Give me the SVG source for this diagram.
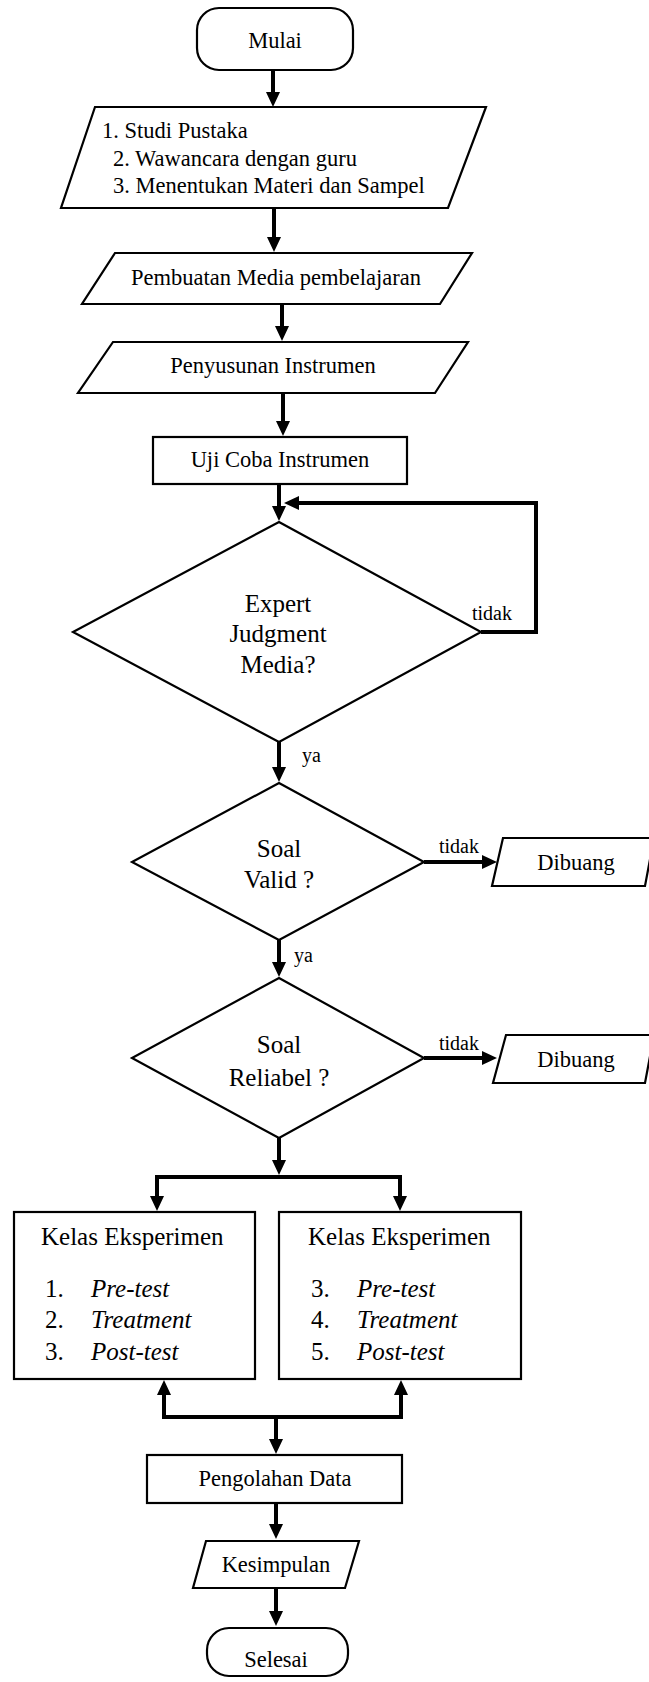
<svg xmlns="http://www.w3.org/2000/svg" width="649" height="1682" viewBox="0 0 649 1682">
<defs>
<marker id="ah" markerUnits="userSpaceOnUse" markerWidth="16" markerHeight="15" refX="5" refY="7" orient="auto" viewBox="0 0 16 14">
<path d="M0,0 L15,7 L0,14 z" fill="#000"/>
</marker>
<style>
.s{fill:#fff;stroke:#000;stroke-width:2.2}
.c{fill:none;stroke:#000;stroke-width:4}
.a{marker-end:url(#ah)}
text{font-family:"Liberation Serif","DejaVu Serif",serif;fill:#000}
.t{font-size:22.5px}
.m{text-anchor:middle}
.d{font-size:25px;text-anchor:middle}
.k{font-size:25px}
.i{font-style:italic}
.l{font-size:20px}
</style>
</defs>
<rect width="649" height="1682" fill="#fff"/>

<g id="connectors">
<line class="c a" x1="273" y1="70" x2="273" y2="97"/>
<line class="c a" x1="274" y1="208" x2="274" y2="242"/>
<line class="c a" x1="282" y1="304" x2="282" y2="331"/>
<line class="c a" x1="283" y1="393" x2="283" y2="426"/>
<line class="c a" x1="279" y1="484" x2="279" y2="511"/>
<polyline class="c a" points="481,632 536,632 536,503 294,503"/>
<line class="c a" x1="279" y1="742" x2="279" y2="772"/>
<line class="c a" x1="424" y1="862" x2="487" y2="862"/>
<line class="c a" x1="279" y1="940" x2="279" y2="967"/>
<line class="c a" x1="424" y1="1058" x2="487" y2="1058"/>
<line class="c a" x1="279" y1="1138" x2="279" y2="1165"/>
<line class="c" x1="155" y1="1177" x2="402" y2="1177"/>
<line class="c a" x1="157" y1="1175" x2="157" y2="1201"/>
<line class="c a" x1="400" y1="1175" x2="400" y2="1201"/>
<line class="c" x1="162" y1="1417" x2="403" y2="1417"/>
<line class="c a" x1="164" y1="1419" x2="164" y2="1390"/>
<line class="c a" x1="401" y1="1419" x2="401" y2="1390"/>
<line class="c a" x1="276" y1="1417" x2="276" y2="1444"/>
<line class="c a" x1="276" y1="1503" x2="276" y2="1529"/>
<line class="c a" x1="276" y1="1588" x2="276" y2="1616"/>
<text class="l" x="472" y="620">tidak</text>
<text class="l" x="302" y="762">ya</text>
<text class="l" x="439" y="853">tidak</text>
<text class="l" x="294" y="962">ya</text>
<text class="l" x="439" y="1050">tidak</text>
</g>

<g id="mulai">
<rect class="s" x="197" y="8" width="156" height="62" rx="22" ry="22"/>
<text class="t m" x="275" y="48">Mulai</text>
</g>

<g id="persiapan">
<polygon class="s" points="95,107 486,107 448,208 61,208"/>
<text class="t" x="102" y="138">1. Studi Pustaka</text>
<text class="t" x="113" y="166">2. Wawancara dengan guru</text>
<text class="t" x="113" y="193">3. Menentukan Materi dan Sampel</text>
</g>

<g id="media">
<polygon class="s" points="115,253 472,253 440,304 82,304"/>
<text class="t m" x="276" y="285">Pembuatan Media pembelajaran</text>
</g>

<g id="instrumen">
<polygon class="s" points="113,342 468,342 435,393 78,393"/>
<text class="t m" x="273" y="373">Penyusunan Instrumen</text>
</g>

<g id="ujicoba">
<rect class="s" x="153" y="437" width="254" height="47"/>
<text class="t m" x="280" y="467">Uji Coba Instrumen</text>
</g>

<g id="expert">
<polygon class="s" points="279,522 481,632 279,742 73,632"/>
<text class="d" x="278" y="612">Expert</text>
<text class="d" x="278" y="642">Judgment</text>
<text class="d" x="278" y="673">Media?</text>
</g>

<g id="valid">
<polygon class="s" points="279,783 424,862 279,940 132,862"/>
<text class="d" x="279" y="857">Soal</text>
<text class="d" x="279" y="888">Valid ?</text>
</g>

<g id="dibuang1">
<polygon class="s" points="503,838 654,838 645,886 492,886"/>
<text class="t m" x="576" y="870">Dibuang</text>
</g>

<g id="reliabel">
<polygon class="s" points="279,978 424,1058 279,1138 132,1058"/>
<text class="d" x="279" y="1053">Soal</text>
<text class="d" x="279" y="1086">Reliabel ?</text>
</g>

<g id="dibuang2">
<polygon class="s" points="506,1035 654,1035 645,1083 493,1083"/>
<text class="t m" x="576" y="1067">Dibuang</text>
</g>

<g id="kelas1">
<rect class="s" x="14" y="1212" width="241" height="167"/>
<text class="k" x="41" y="1245">Kelas Eksperimen</text>
<text class="k" x="45" y="1297">1.</text><text class="k i" x="91" y="1297">Pre-test</text>
<text class="k" x="45" y="1328">2.</text><text class="k i" x="91" y="1328">Treatment</text>
<text class="k" x="45" y="1360">3.</text><text class="k i" x="91" y="1360">Post-test</text>
</g>

<g id="kelas2">
<rect class="s" x="279" y="1212" width="242" height="167"/>
<text class="k" x="308" y="1245">Kelas Eksperimen</text>
<text class="k" x="311" y="1297">3.</text><text class="k i" x="357" y="1297">Pre-test</text>
<text class="k" x="311" y="1328">4.</text><text class="k i" x="357" y="1328">Treatment</text>
<text class="k" x="311" y="1360">5.</text><text class="k i" x="357" y="1360">Post-test</text>
</g>

<g id="pengolahan">
<rect class="s" x="147" y="1455" width="255" height="48"/>
<text class="t m" x="275" y="1486">Pengolahan Data</text>
</g>

<g id="kesimpulan">
<polygon class="s" points="206,1541 359,1541 345,1588 193,1588"/>
<text class="t m" x="276" y="1572">Kesimpulan</text>
</g>

<g id="selesai">
<rect class="s" x="207" y="1628" width="141" height="48" rx="22" ry="22"/>
<text class="t m" x="276" y="1667">Selesai</text>
</g>
</svg>
